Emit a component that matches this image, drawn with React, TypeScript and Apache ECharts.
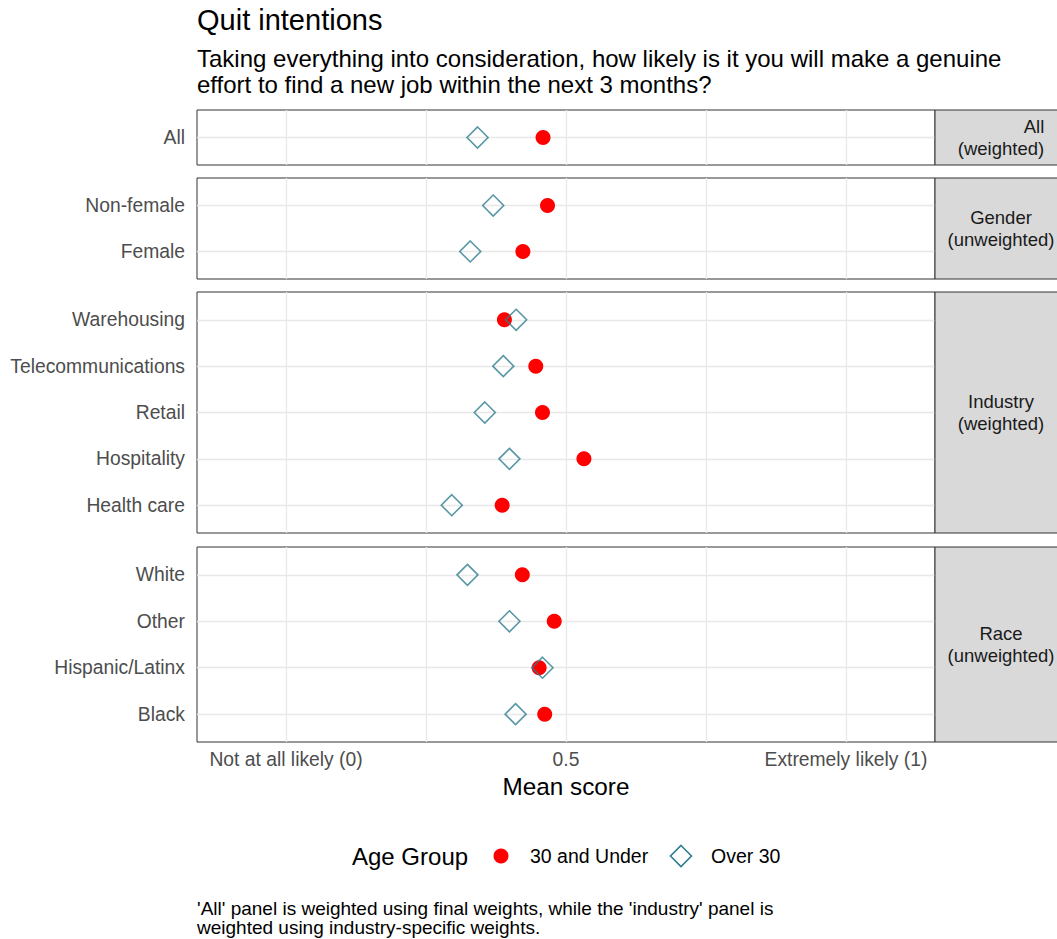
import React, { useEffect, useRef } from "react";
import * as echarts from "echarts";

// ---------- data ----------
const allCats = ["All"];
const allUnder30 = [0.459];
const allOver30 = [0.342];

const genderCats = ["Non-female", "Female"];
const genderUnder30 = [0.467, 0.423];
const genderOver30 = [0.37, 0.329];

const industryCats = ["Warehousing", "Telecommunications", "Retail", "Hospitality", "Health care"];
const industryUnder30 = [0.39, 0.446, 0.458, 0.532, 0.386];
const industryOver30 = [0.411, 0.388, 0.355, 0.399, 0.296];

const raceCats = ["White", "Other", "Hispanic/Latinx", "Black"];
const raceUnder30 = [0.422, 0.479, 0.452, 0.462];
const raceOver30 = [0.324, 0.399, 0.458, 0.41];

const stripLabels = [["All", "(weighted)"], ["Gender", "(unweighted)"], ["Industry", "(weighted)"], ["Race", "(unweighted)"]];
const seriesNames = ["30 and Under", "Over 30"];
const xTickValues = [0, 0.5, 1];
const xTickLabels = ["Not at all likely (0)", "0.5", "Extremely likely (1)"];
const xGridValues = [0, 0.25, 0.5, 0.75, 1];

const panels = [
  { cats: allCats, under: allUnder30, over: allOver30 },
  { cats: genderCats, under: genderUnder30, over: genderOver30 },
  { cats: industryCats, under: industryUnder30, over: industryOver30 },
  { cats: raceCats, under: raceUnder30, over: raceOver30 },
];

// ---------- layout ----------
const FONT = "Liberation Sans, Arial, Helvetica, sans-serif";
const GRID_LEFT = 197;
const GRID_RIGHT_X = 935;
const panelBoxes = [
  { top: 110, height: 55 },
  { top: 178, height: 101 },
  { top: 292, height: 241 },
  { top: 547, height: 195 },
];
const X_MIN = -0.159;
const X_MAX = 1.159;
const RED = "#ff0000";
const TEAL = "#2e7d8e";
const STRIP_CX = 1001;
const AXIS_FS = 19.3;

export default function App() {
  const ref = useRef<HTMLDivElement>(null);

  useEffect(() => {
    if (!ref.current) return;
    const chart = echarts.init(ref.current, undefined, { renderer: "svg" });

    const grids = panelBoxes.map((b) => ({
      left: GRID_LEFT,
      width: GRID_RIGHT_X - GRID_LEFT,
      top: b.top,
      height: b.height,
      show: true,
      borderColor: "#333333",
      borderWidth: 1,
      backgroundColor: "#ffffff",
      containLabel: false,
    }));

    const last = panels.length - 1;
    const xAxes = panels.map((_, i) => ({
      gridIndex: i,
      type: "value",
      min: X_MIN,
      max: X_MAX,
      axisLine: { show: false },
      splitLine: { show: false },
      axisTick: {
        show: i === last,
        length: 5,
        lineStyle: { color: "#333333", width: 1 },
        customValues: xTickValues,
      },
      axisLabel: {
        show: i === last,
        customValues: xTickValues,
        formatter: (v: number) => {
          const k = xTickValues.findIndex((t) => Math.abs(t - v) < 1e-6);
          return k >= 0 ? xTickLabels[k] : "";
        },
        color: "#4d4d4d",
        fontSize: AXIS_FS,
        fontFamily: FONT,
        margin: 8,
      },
      name: i === last ? "Mean score" : "",
      nameLocation: "middle",
      nameGap: 32,
      nameTextStyle: { color: "#000000", fontSize: 24.3, fontFamily: FONT },
    }));

    const yAxes = panels.map((p, i) => {
      const idx = p.cats.map((_, k) => k);
      return {
        gridIndex: i,
        type: "value",
        inverse: true,
        min: -0.6,
        max: p.cats.length - 0.4,
        axisLine: { show: false },
        splitLine: { show: false },
        axisTick: {
          show: true,
          length: 5,
          lineStyle: { color: "#333333", width: 1 },
          customValues: idx,
        },
        axisLabel: {
          customValues: idx,
          formatter: (v: number) => p.cats[Math.round(v)] ?? "",
          color: "#4d4d4d",
          fontSize: AXIS_FS,
          fontFamily: FONT,
          margin: 12,
        },
      };
    });

    const series: any[] = [];
    panels.forEach((p, i) => {
      const gridLines = [
        ...xGridValues.map((v) => ({ xAxis: v })),
        ...p.cats.map((_, k) => ({ yAxis: k })),
      ];
      series.push({
        name: seriesNames[0],
        type: "scatter",
        xAxisIndex: i,
        yAxisIndex: i,
        symbol: "circle",
        symbolSize: 15,
        itemStyle: { color: RED, opacity: 1 },
        data: p.under.map((v, k) => [v, k]),
        z: 3,
        markLine: {
          silent: true,
          symbol: ["none", "none"],
          label: { show: false },
          lineStyle: { color: "#e8e8e8", width: 1.3, type: "solid" },
          emphasis: { disabled: true },
          z: 1,
          data: gridLines,
        },
      });
      series.push({
        name: seriesNames[1],
        type: "scatter",
        xAxisIndex: i,
        yAxisIndex: i,
        symbol: "diamond",
        symbolSize: 21,
        itemStyle: { color: "rgba(0,0,0,0)", borderColor: TEAL, borderWidth: 1.6 },
        data: p.over.map((v, k) => [v, k]),
        z: 4,
      });
    });

    const graphics: any[] = [];
    panelBoxes.forEach((b, i) => {
      graphics.push({
        type: "rect",
        shape: { x: GRID_RIGHT_X, y: b.top, width: 140, height: b.height },
        style: { fill: "#d9d9d9", stroke: "#333333", lineWidth: 1 },
        z: 10,
      });
      const cy = b.top + b.height / 2;
      const [l1, l2] = stripLabels[i];
      graphics.push({
        type: "text",
        x: i === 0 ? STRIP_CX + 33 : STRIP_CX,
        y: cy - 11,
        style: { text: l1, fill: "#1a1a1a", fontSize: 18.5, fontFamily: FONT, textAlign: "center", textVerticalAlign: "middle" },
        z: 11,
      });
      graphics.push({
        type: "text",
        x: STRIP_CX,
        y: cy + 11,
        style: { text: l2, fill: "#1a1a1a", fontSize: 18.5, fontFamily: FONT, textAlign: "center", textVerticalAlign: "middle" },
        z: 11,
      });
    });

    // legend
    const LY = 856;
    graphics.push(
      { type: "text", x: 352, y: LY, style: { text: "Age Group", fill: "#000000", fontSize: 24, fontFamily: FONT, textVerticalAlign: "middle" } },
      { type: "circle", shape: { cx: 501, cy: LY, r: 7.5 }, style: { fill: RED } },
      { type: "text", x: 530, y: LY, style: { text: seriesNames[0], fill: "#000000", fontSize: 19.5, fontFamily: FONT, textVerticalAlign: "middle" } },
      {
        type: "polygon",
        shape: { points: [[681, LY - 10.5], [691.5, LY], [681, LY + 10.5], [670.5, LY]] },
        style: { fill: "none", stroke: TEAL, lineWidth: 1.6 },
      },
      { type: "text", x: 711, y: LY, style: { text: seriesNames[1], fill: "#000000", fontSize: 19.5, fontFamily: FONT, textVerticalAlign: "middle" } }
    );

    // caption
    graphics.push(
      { type: "text", x: 197, y: 908, style: { text: "'All' panel is weighted using final weights, while the 'industry' panel is", fill: "#000000", fontSize: 19, fontFamily: FONT, textVerticalAlign: "middle" } },
      { type: "text", x: 197, y: 927, style: { text: "weighted using industry-specific weights.", fill: "#000000", fontSize: 19, fontFamily: FONT, textVerticalAlign: "middle" } }
    );

    chart.setOption({
      animation: false,
      backgroundColor: "#ffffff",
      textStyle: { fontFamily: FONT },
      title: {
        left: 197,
        top: 5,
        padding: 0,
        itemGap: 10,
        text: "Quit intentions",
        textStyle: { color: "#000000", fontSize: 29, fontWeight: "normal", fontFamily: FONT, lineHeight: 30 },
        subtext: "Taking everything into consideration, how likely is it you will make a genuine\neffort to find a new job within the next 3 months?",
        subtextStyle: { color: "#000000", fontSize: 24, fontFamily: FONT, lineHeight: 26 },
      },
      grid: grids,
      xAxis: xAxes,
      yAxis: yAxes,
      series,
      graphic: graphics,
    });

    return () => chart.dispose();
  }, []);

  return <div ref={ref} style={{ position: "absolute", left: 0, top: 0, width: 1057, height: 939 }} />;
}
